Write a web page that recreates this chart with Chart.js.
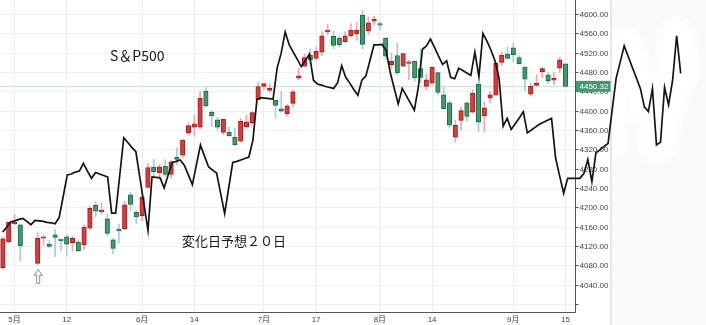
<!DOCTYPE html>
<html>
<head>
<meta charset="utf-8">
<script src="https://cdn.jsdelivr.net/npm/chart.js@4.4.0/dist/chart.umd.min.js"></script>
<style>
  html, body { margin: 0; padding: 0; background: #fff; }
  #wrap { width: 706px; height: 325px; }
</style>
</head>
<body>
<div id="wrap"><canvas id="c"></canvas></div>
<script>
// trading days shown as candles (2023)
var days = ['4/27','4/28','5/1','5/2','5/3','5/4','5/5','5/8','5/9','5/10','5/11','5/12','5/15','5/16','5/17','5/18','5/19','5/22','5/23','5/24','5/25','5/26','5/30','5/31',
  '6/1','6/2','6/5','6/6','6/7','6/8','6/9','6/12','6/13','6/14','6/15','6/16','6/20','6/21','6/22','6/23','6/26','6/27','6/28','6/29','6/30',
  '7/3','7/5','7/6','7/7','7/10','7/11','7/12','7/13','7/14','7/17','7/18','7/19','7/20','7/21','7/24','7/25','7/26','7/27','7/28','7/31',
  '8/1','8/2','8/3','8/4','8/7','8/8','8/9','8/10','8/11','8/14','8/15','8/16','8/17','8/18','8/21','8/22','8/23','8/24','8/25','8/28','8/29','8/30','8/31',
  '9/1','9/5','9/6','9/7','9/8','9/11','9/12','9/13','9/14','9/15'];
var emptySlots = 23; // room on the right for the forecast line

var opens = [4075,4129,4166,4164,null,null,4084,4136,4124,4143,
  4132,4139,4127,4128,4122,4157,4204,4191,4176,4133,
  4155,4156,4226,4190,4183,4241,4283,4271,4285,4268,
  4304,4308,4354,4366,4366,4440,4397,4381,4355,4355,
  4345,4337,4367,4375,4422,4450,4442,4422,4404,4394,
  4415,4467,4492,4515,4508,4521,4563,4554,4550,4543,
  4555,4559,4598,4565,4585,4579,4550,4495,4514,4492,
  4498,4502,4487,4450,4458,4479,4433,4416,4345,4380,
  4416,4397,4455,4389,4426,4432,4500,4517,4530,4510,
  4490,4434,4452,4480,4474,4463,4488,4497];
var highs = [4139,4170,4186,4165,null,null,4147,4143,4131,4154,
  4133,4143,4141,4133,4164,4202,4212,4209,4186,4136,
  4166,4213,4231,4195,4232,4291,4300,4289,4299,4298,
  4323,4340,4375,4391,4439,4448,4400,4386,4382,4366,
  4363,4384,4391,4398,4458,4456,4455,4422,4440,4412,
  4443,4489,4517,4528,4532,4563,4578,4565,4555,4563,
  4580,4583,4607,4594,4595,4584,4551,4519,4540,4519,
  4504,4503,4527,4476,4490,4480,4449,4421,4381,4408,
  4419,4443,4459,4418,4440,4500,4522,4532,4541,4514,
  4490,4457,4474,4490,4479,4479,4511,4497];
var lows = [4072,4127,4164,4089,null,null,4082,4124,4116,4098,
  4110,4099,4110,4109,4113,4154,4180,4186,4142,4104,
  4126,4154,4193,4166,4172,4241,4262,4262,4264,4261,
  4288,4303,4349,4347,4363,4407,4367,4360,4351,4347,
  4328,4335,4364,4371,4422,4443,4436,4385,4397,4389,
  4408,4464,4490,4497,4504,4514,4557,4528,4532,4541,
  4552,4546,4528,4558,4577,4567,4506,4486,4474,4491,
  4464,4461,4457,4443,4453,4432,4403,4364,4335,4360,
  4379,4396,4357,4356,4416,4432,4493,4507,4501,4496,
  4442,4430,4451,4468,4457,4454,4479,4448];
var closes = [4135,4169,4168,4120,null,null,4136,4138,4119,4138,
  4131,4124,4136,4110,4159,4198,4192,4193,4146,4115,
  4151,4205,4206,4180,4221,4282,4274,4284,4268,4294,
  4299,4339,4369,4373,4426,4410,4389,4366,4382,4348,
  4329,4378,4377,4396,4450,4456,4447,4411,4399,4410,
  4439,4472,4510,4505,4523,4555,4566,4535,4536,4555,
  4567,4567,4537,4582,4589,4577,4513,4502,4478,4518,
  4499,4468,4469,4464,4490,4438,4404,4370,4370,4400,
  4388,4436,4376,4406,4433,4498,4515,4508,4516,4497,
  4465,4451,4457,4487,4462,4467,4505,4450];

// 変化日予想 line, one value per forecast step
var forecast = [4149,4159,4170,4172,4175,4177,4171,4164,4173,4172,
  4171,4169,4168,4166,4179,4223,4267,4269,4273,4275,
  4291,4275,4260,4272,4269,4266,4263,4188,4188,4266,
  4344,4334,4324,4315,4261,4207,4152,4263,4262,4261,
  4240,4267,4293,4295,4298,4287,4267,4247,4288,4329,
  4306,4284,4277,4271,4229,4187,4240,4293,4295,4298,
  4301,4304,4339,4423,4427,4426,4425,4424,4488,4519,
  4563,4536,4521,4506,4491,4504,4517,4463,4455,4453,
  4450,4448,4446,4458,4493,4469,4457,4444,4432,4463,
  4472,4504,4536,4536,4537,4525,4480,4447,4414,4446,
  4431,4416,4401,4449,4527,4534,4548,4531,4513,4496,
  4503,4469,4466,4488,4483,4478,4473,4521,4470,4560,
  4544,4525,4503,4467,4368,4384,4361,4373,4385,4398,
  4354,4360,4366,4372,4376,4380,4384,4302,4265,4229,
  4260,4260,4260,4260,4270,4299,4253,4313,4319,4326,
  4332,4400,4467,4500,4534,4512,4490,4468,4446,4408,
  4398,4446,4329,4335,4448,4412,4463,4555,4477];

var tickDays = ['5/1','5/12','6/1','6/14','7/3','7/17','8/1','8/14','9/1','9/15'];
var tickTexts = ['5月','12','6月','14','7月','17','8月','14','9月','15'];
var yTickValues = [4600,4560,4520,4480,4440,4400,4360,4320,4280,4240,4200,4160,4120,4080,4040,4000];
var yTickLabels = ['4600.00','4560.00','4520.00','4480.00','4440.00','4400.00','4360.00','4320.00','4280.00','4240.00','4200.00','4160.00','4120.00','4080.00','4040.00',''];
var lastPrice = 4450.32;
var lastPriceText = '4450.32';
var arrowDay = '5/5';

var AXIS_X = 575.5;
var PANEL_X = 610;
var UP = '#d63c3c', UP_EDGE = '#a81818', UP_WICK = '#f2a6b0';
var DOWN = '#3f9a6e', DOWN_EDGE = '#1b6a44', DOWN_WICK = '#a3cde0';
var SANS = '"Liberation Sans", "Noto Sans CJK JP", sans-serif';
var JP = '"Noto Sans CJK JP", sans-serif';

var labels = days.concat(Array(emptySlots).fill(''));
var isUp = opens.map(function (o, i) { return closes[i] >= o; });
var bodies = opens.map(function (o, i) { return o == null ? null : [o, closes[i]]; });
var wicks = lows.map(function (l, i) { return l == null ? null : [l, highs[i]]; });
var forecastPts = forecast.map(function (v, j) { return { x: j, y: v }; });

// white glow round the forecast line, only inside the right panel
function halo(width, color) {
  return {
    type: 'line',
    label: 'halo',
    data: forecastPts,
    xAxisID: 'xf',
    yAxisID: 'y',
    borderColor: color,
    borderWidth: width,
    borderJoinStyle: 'round',
    borderCapStyle: 'round',
    pointRadius: 0,
    tension: 0,
    clip: { left: -(PANEL_X + 2), top: 0, right: 10, bottom: 0 },
    order: 3
  };
}

var panelPlugin = {
  id: 'panel',
  beforeDraw: function (chart) {
    var ctx = chart.ctx, y = chart.scales.y;
    ctx.save();
    ctx.fillStyle = '#ffffff';
    ctx.fillRect(0, 0, chart.width, chart.height);
    ctx.fillStyle = '#f8f9fb';
    ctx.fillRect(PANEL_X, 0, chart.width - PANEL_X, chart.height);
    ctx.fillStyle = '#e3e8ee';
    ctx.fillRect(PANEL_X, 0, 2, chart.height);
    // horizontal grid over the candle area
    ctx.strokeStyle = '#eef0f3';
    ctx.lineWidth = 1;
    yTickValues.forEach(function (v) {
      var py = Math.round(y.getPixelForValue(v)) + 0.5;
      ctx.beginPath();
      ctx.moveTo(0, py);
      ctx.lineTo(AXIS_X, py);
      ctx.stroke();
    });
    // last price line
    var pp = Math.round(y.getPixelForValue(lastPrice)) + 0.5;
    ctx.strokeStyle = '#c6e4d8';
    ctx.beginPath();
    ctx.moveTo(0, pp);
    ctx.lineTo(PANEL_X, pp);
    ctx.stroke();
    ctx.restore();
  },
  beforeDatasetsDraw: function (chart) {
    var ctx = chart.ctx, y = chart.scales.y, area = chart.chartArea;
    var bottom = Math.round(area.bottom) + 0.5;
    ctx.save();
    ctx.strokeStyle = '#555';
    ctx.lineWidth = 1;
    ctx.beginPath();
    ctx.moveTo(AXIS_X, 0);
    ctx.lineTo(AXIS_X, bottom);
    ctx.lineTo(0, bottom);
    ctx.stroke();
    ctx.font = '8px ' + SANS;
    ctx.fillStyle = '#444';
    ctx.textAlign = 'left';
    ctx.textBaseline = 'middle';
    yTickValues.forEach(function (v, i) {
      var py = Math.round(y.getPixelForValue(v)) + 0.5;
      ctx.beginPath();
      ctx.moveTo(AXIS_X, py);
      ctx.lineTo(AXIS_X + 3, py);
      ctx.stroke();
      if (yTickLabels[i]) ctx.fillText(yTickLabels[i], AXIS_X + 4, py + 0.5);
    });
    // last price badge
    var pp = y.getPixelForValue(lastPrice);
    ctx.fillStyle = '#3e9a70';
    ctx.fillRect(AXIS_X + 0.5, pp - 5.5, PANEL_X - AXIS_X, 11);
    ctx.fillStyle = '#ffffff';
    ctx.fillText(lastPriceText, AXIS_X + 4, pp + 0.5);
    ctx.restore();
  },
  afterDraw: function (chart) {
    var ctx = chart.ctx, x = chart.scales.x, y = chart.scales.y;
    ctx.save();
    ctx.fillStyle = '#161616';
    ctx.textBaseline = 'middle';
    ctx.textAlign = 'left';
    ctx.font = '14px ' + JP;
    ctx.fillText('S＆P500', 110, 56);
    ctx.font = '13px ' + JP;
    ctx.fillText('変化日予想２０日', 182, 241);
    // hollow arrow under the marked candle
    var k = days.indexOf(arrowDay);
    var cx = x.getPixelForValue(k) + 0.5;
    var top = y.getPixelForValue(lows[k]) + 5;
    ctx.beginPath();
    ctx.moveTo(cx, top);
    ctx.lineTo(cx + 4, top + 6);
    ctx.lineTo(cx + 1.5, top + 6);
    ctx.lineTo(cx + 1.5, top + 14);
    ctx.lineTo(cx - 1.5, top + 14);
    ctx.lineTo(cx - 1.5, top + 6);
    ctx.lineTo(cx - 4, top + 6);
    ctx.closePath();
    ctx.fillStyle = '#ffffff';
    ctx.fill();
    ctx.strokeStyle = '#8c8c8c';
    ctx.lineWidth = 1;
    ctx.stroke();
    ctx.restore();
  }
};

new Chart(document.getElementById('c'), {
  type: 'bar',
  data: {
    labels: labels,
    datasets: [{
      type: 'line',
      label: '変化日予想',
      data: forecastPts,
      xAxisID: 'xf',
      yAxisID: 'y',
      borderColor: '#141414',
      borderWidth: 1.7,
      pointRadius: 0,
      tension: 0,
      order: 0
    }, {
      label: 'body',
      data: bodies,
      xAxisID: 'x',
      yAxisID: 'y',
      backgroundColor: isUp.map(function (u) { return u ? UP : DOWN; }),
      borderColor: isUp.map(function (u) { return u ? UP_EDGE : DOWN_EDGE; }),
      borderWidth: 1,
      borderSkipped: false,
      barThickness: 4.5,
      minBarLength: 1.5,
      grouped: false,
      order: 1
    }, {
      label: 'wick',
      data: wicks,
      xAxisID: 'x',
      yAxisID: 'y',
      backgroundColor: isUp.map(function (u) { return u ? UP_WICK : DOWN_WICK; }),
      borderWidth: 0,
      barThickness: 1,
      grouped: false,
      order: 2
    }, halo(28, '#ffffff'), Object.assign(halo(40, '#fcfcfd'), { order: 4 })]
  },
  options: {
    responsive: true,
    maintainAspectRatio: false,
    devicePixelRatio: 1,
    animation: false,
    layout: { padding: { left: 0, right: 4.2, top: 0, bottom: 0 } },
    plugins: { legend: { display: false }, tooltip: { enabled: false } },
    scales: {
      x: {
        type: 'category',
        offset: true,
        border: { display: false },
        grid: {
          offset: false,
          drawTicks: true,
          tickLength: 3,
          tickColor: 'rgba(0,0,0,0)',
          color: function (c) {
            return tickDays.indexOf(labels[c.index]) < 0 ? 'rgba(0,0,0,0)' : '#eceff2';
          }
        },
        ticks: {
          autoSkip: false,
          maxRotation: 0,
          padding: 0,
          color: '#444',
          font: { size: 8, family: SANS },
          callback: function (v, i) {
            var p = tickDays.indexOf(labels[i]);
            return p < 0 ? '' : tickTexts[p];
          }
        }
      },
      xf: {
        type: 'linear', display: false, offset: false, bounds: 'data',
        grid: { offset: false }, min: -0.669, max: 173.23
      },
      y: { type: 'linear', display: false, min: 3982.6, max: 4629 }
    }
  },
  plugins: [panelPlugin]
});
</script>
</body>
</html>
